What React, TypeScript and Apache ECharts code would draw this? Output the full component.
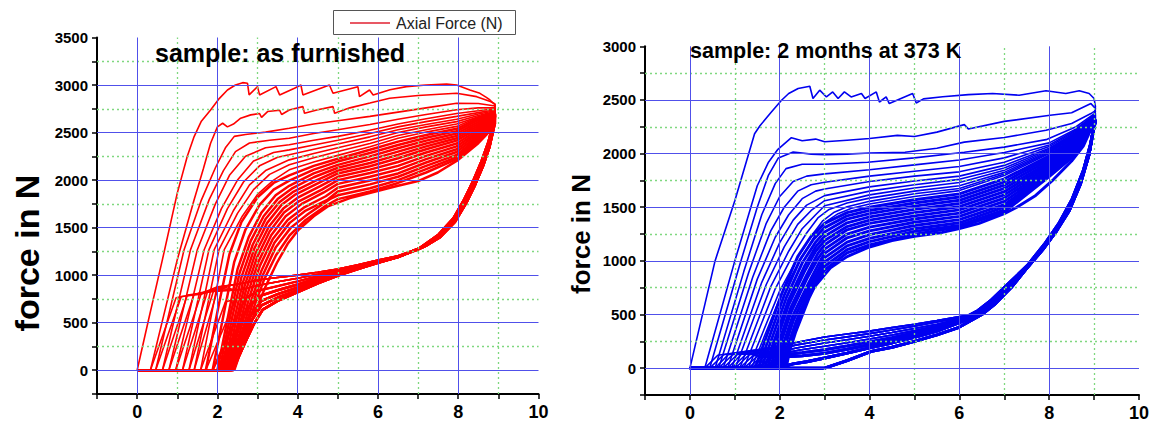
import React, { useEffect, useRef } from 'react';
import * as echarts from 'echarts';

type Pt = [number, number];

// ---------------- axis / grid values ----------------
const xMajorGrid = [0, 2, 4, 6, 8];
const xMinorGrid = [1, 3, 5, 7, 9];
const leftYMajorGrid = [0, 500, 1000, 1500, 2000, 2500, 3000];
const leftYMinorGrid = [250, 750, 1250, 1750, 2250, 2750, 3250];
const rightYMajorGrid = [0, 500, 1000, 1500, 2000, 2500];
const rightYMinorGrid = [250, 750, 1250, 1750, 2250, 2750];

const titleLeft = 'sample: as furnished';
const titleRight = 'sample: 2 months at 373 K';
const yTitle = 'force in N';
const legendLabel = 'Axial Force (N)';

// ---------------- LEFT PANEL: loading branches ----------------
const leftLoad01: Pt[] = [[0,0],[0.3,560],[0.63,1163],[1.0,1863],[1.25,2250],[1.42,2458],[1.6,2620],[1.83,2738],[2.05,2860],[2.25,2948],[2.45,3000],[2.63,3025],[2.75,3018],[2.79,2896],[3.0,2983],[3.05,2896],[3.46,2983],[3.55,2896],[3.92,2966],[4.08,3000],[4.13,2896],[4.79,3000],[4.88,2913],[5.5,2983],[5.54,2878],[5.79,2948],[5.88,2896],[6.3,2950],[6.71,2983],[7.2,3000],[7.71,3011],[7.96,3000],[8.29,2948],[8.54,2913],[8.7,2870],[8.79,2843],[8.92,2790]];
const leftLoad02: Pt[] = [[0.33,0],[1.0,1163],[1.42,1793],[1.65,2120],[1.83,2388],[2.0,2560],[2.13,2598],[2.25,2560],[2.4,2590],[2.58,2651],[2.83,2686],[3.05,2700],[3.1,2660],[3.25,2721],[3.55,2735],[3.6,2690],[3.79,2738],[4.13,2773],[4.17,2703],[4.5,2740],[4.88,2773],[4.92,2703],[5.3,2760],[5.8,2810],[6.29,2861],[7.0,2890],[7.96,2913],[8.46,2878],[8.8,2826],[8.92,2800]];
const leftLoad03: Pt[] = [[0.46,0],[1.17,1268],[1.6,1790],[1.95,2130],[2.2,2340],[2.42,2460],[2.7,2480],[3.2,2505],[3.79,2546],[4.4,2590],[5.0,2625],[5.8,2670],[6.5,2715],[7.2,2760],[7.96,2808],[8.5,2805],[8.92,2780]];
const leftLoad04: Pt[] = [[0.63,0],[1.33,1268],[1.8,1800],[2.15,2100],[2.45,2300],[2.8,2390],[3.3,2420],[3.79,2441],[4.4,2490],[5.0,2530],[5.8,2585],[6.5,2640],[7.2,2690],[7.96,2740],[8.5,2760],[8.92,2760]];
const leftLoad05: Pt[] = [[0.79,0],[1.5,1268],[1.95,1750],[2.3,2050],[2.7,2250],[3.2,2340],[3.79,2371],[4.4,2420],[5.0,2460],[5.8,2525],[6.5,2590],[7.2,2645],[7.96,2700],[8.5,2730],[8.92,2750]];
const leftLoad06: Pt[] = [[0.96,0],[1.67,1268],[2.1,1700],[2.5,2000],[2.9,2200],[3.4,2290],[3.79,2318],[4.4,2370],[5.0,2420],[5.8,2490],[6.5,2560],[7.2,2615],[7.96,2670],[8.5,2710],[8.92,2740]];
const leftLoad07: Pt[] = [[1.13,0],[1.79,1268],[2.25,1700],[2.65,1980],[3.05,2150],[3.5,2240],[3.79,2266],[4.4,2325],[5.0,2380],[5.8,2455],[6.5,2530],[7.2,2585],[7.96,2640],[8.5,2695],[8.92,2730]];
const leftLoad08: Pt[] = [[1.29,0],[1.92,1268],[2.4,1680],[2.8,1950],[3.2,2100],[3.79,2213],[4.4,2280],[5.0,2340],[5.8,2420],[6.5,2500],[7.2,2560],[7.96,2615],[8.5,2680],[8.92,2720]];
const leftLoad09: Pt[] = [[1.42,0],[2.04,1268],[2.5,1650],[2.9,1900],[3.3,2060],[3.79,2161],[4.4,2235],[5.0,2300],[5.8,2385],[6.5,2470],[7.2,2530],[7.96,2590],[8.5,2665],[8.92,2715]];
const leftLoad10: Pt[] = [[1.58,0],[2.17,1268],[2.62,1620],[3.0,1850],[3.4,2000],[3.79,2108],[4.4,2190],[5.0,2260],[5.8,2350],[6.5,2440],[7.2,2505],[7.96,2565],[8.5,2660],[8.92,2710]];
const leftLoad11: Pt[] = [[1.71,0],[2.05,720],[2.3,1220],[2.6,1560],[3.0,1820],[3.4,1970],[3.79,2050],[4.4,2150],[5.0,2225],[5.8,2320],[6.5,2405],[7.2,2475],[7.96,2540],[8.5,2650],[8.92,2700]];
const leftLoad12: Pt[] = [[1.88,0],[2.18,640],[2.42,1140],[2.7,1480],[3.05,1740],[3.4,1900],[3.79,1995],[4.4,2110],[5.0,2195],[5.8,2285],[6.5,2370],[7.2,2445],[7.96,2515],[8.5,2630],[8.92,2695]];
const leftLoad13: Pt[] = [[2.0,0],[2.28,600],[2.5,1060],[2.78,1400],[3.1,1660],[3.45,1840],[3.79,1940],[4.4,2070],[5.0,2160],[5.8,2250],[6.5,2335],[7.2,2415],[7.96,2490],[8.5,2610],[8.92,2690]];
const leftLoad14: Pt[] = [[2.05,0],[2.32,570],[2.55,1020],[2.83,1360],[3.15,1620],[3.5,1800],[3.85,1910],[4.4,2030],[5.0,2130],[5.8,2215],[6.5,2300],[7.2,2385],[7.96,2465],[8.5,2590],[8.92,2685]];
const leftLoad15: Pt[] = [[2.1,0],[2.36,540],[2.6,980],[2.88,1320],[3.2,1590],[3.55,1770],[3.9,1880],[4.45,1995],[5.0,2100],[5.8,2180],[6.5,2265],[7.2,2355],[7.96,2440],[8.5,2570],[8.92,2680]];
const leftLoad16: Pt[] = [[2.15,0],[2.4,500],[2.64,930],[2.92,1280],[3.24,1550],[3.6,1740],[3.95,1850],[4.5,1965],[5.0,2070],[5.8,2145],[6.5,2230],[7.2,2325],[7.96,2415],[8.5,2550],[8.92,2675]];
const leftLoad17: Pt[] = [[2.2,0],[2.44,470],[2.68,890],[2.95,1230],[3.28,1510],[3.64,1700],[4.0,1815],[4.55,1935],[5.0,2035],[5.8,2110],[6.5,2190],[7.2,2290],[7.96,2385],[8.5,2530],[8.92,2670]];
const leftLoad18: Pt[] = [[2.24,0],[2.48,440],[2.71,840],[2.98,1180],[3.3,1460],[3.66,1660],[4.04,1780],[4.6,1900],[5.0,2000],[5.8,2075],[6.5,2150],[7.2,2255],[7.96,2355],[8.5,2510],[8.92,2660]];
const leftLoad19: Pt[] = [[2.28,0],[2.52,420],[2.75,800],[3.02,1140],[3.34,1420],[3.7,1620],[4.1,1750],[4.65,1870],[5.0,1960],[5.8,2035],[6.5,2110],[7.2,2220],[7.96,2325],[8.5,2490],[8.92,2650]];
const leftLoad20: Pt[] = [[2.31,0],[2.56,400],[2.79,760],[3.06,1100],[3.38,1380],[3.75,1580],[4.15,1710],[4.7,1830],[5.0,1920],[5.8,1995],[6.5,2070],[7.2,2185],[7.96,2295],[8.5,2470],[8.92,2640]];
const leftLoad21: Pt[] = [[2.34,0],[2.59,370],[2.83,720],[3.1,1050],[3.42,1340],[3.8,1550],[4.2,1680],[4.75,1795],[5.0,1880],[5.8,1955],[6.5,2035],[7.2,2150],[7.96,2265],[8.5,2450],[8.92,2630]];
const leftLoad22: Pt[] = [[2.36,0],[2.61,340],[2.86,680],[3.13,1000],[3.45,1290],[3.83,1500],[4.25,1640],[4.8,1800],[5.0,1840],[5.8,1915],[6.5,2000],[7.2,2115],[7.96,2240],[8.5,2430],[8.92,2620]];
const leftLoad23: Pt[] = [[2.38,0],[2.63,310],[2.89,640],[3.16,950],[3.46,1210],[3.8,1420],[4.2,1580],[4.7,1730],[5.0,1800],[5.8,1880],[6.5,1970],[7.2,2080],[7.96,2220],[8.5,2410],[8.92,2610]];
const leftLoad24: Pt[] = [[2.4,0],[2.65,280],[2.93,606],[3.2,880],[3.48,1128],[3.75,1330],[4.02,1478],[4.4,1620],[4.75,1723],[5.3,1810],[5.84,1870],[6.5,1940],[7.0,1990],[7.49,2080],[8.0,2213],[8.5,2388],[8.8,2520],[8.92,2600]];

// ---------------- LEFT PANEL: unloading branches ----------------
const leftUnload1: Pt[] = [[8.86,2600],[8.74,2400],[8.57,2200],[8.37,2000],[8.14,1800],[7.87,1600],[7.5,1430],[7.0,1280],[6.5,1205],[6.0,1160],[5.5,1110],[5.0,1065],[4.5,1030],[4.0,1000],[3.5,975],[3.1,955],[2.5,905]];
const leftUnload2: Pt[] = [[8.86,2580],[8.75,2380],[8.58,2180],[8.38,1980],[8.15,1780],[7.87,1580],[7.5,1420],[7.0,1275],[6.5,1200],[6.0,1152],[5.5,1100],[5.0,1052],[4.5,1010],[4.0,968],[3.5,930],[3.1,900],[2.6,850]];
const leftUnload3: Pt[] = [[8.86,2550],[8.76,2350],[8.6,2150],[8.4,1950],[8.16,1750],[7.88,1560],[7.5,1410],[7.0,1270],[6.5,1195],[6.0,1145],[5.5,1090],[5.0,1040],[4.5,990],[4.0,935],[3.5,885],[3.1,845],[2.7,760]];
const leftUnload4: Pt[] = [[8.86,2535],[8.765,2350],[8.605,2150],[8.405,1950],[8.17,1752],[7.89,1560],[7.51,1408],[7.05,1280],[6.5,1193],[6.0,1141],[5.5,1084],[5.0,1030],[4.5,970],[4.0,902],[3.5,842],[3.1,788],[2.75,660]];
const leftUnload5: Pt[] = [[8.86,2520],[8.77,2350],[8.61,2150],[8.41,1950],[8.18,1755],[7.9,1560],[7.52,1405],[7.1,1290],[6.5,1192],[6.0,1137],[5.5,1078],[5.0,1020],[4.5,950],[4.0,870],[3.5,800],[3.1,730],[2.8,560]];
const leftUnload6: Pt[] = [[8.86,2510],[8.775,2350],[8.615,2150],[8.415,1950],[8.19,1758],[7.91,1560],[7.535,1402],[7.15,1300],[6.5,1191],[6.0,1133],[5.5,1072],[5.0,1010],[4.5,932],[4.0,841],[3.5,765],[3.1,683],[2.85,520],[2.65,260]];
const leftUnload7: Pt[] = [[8.86,2500],[8.78,2350],[8.62,2150],[8.42,1950],[8.2,1760],[7.92,1560],[7.55,1400],[7.2,1310],[6.96,1270],[6.5,1190],[6.0,1130],[5.5,1065],[5.04,1000],[4.5,915],[3.96,813],[3.5,730],[3.13,637],[2.9,480],[2.7,300],[2.54,150]];

// ---------------- LEFT PANEL: return to the next start ----------------
const leftTails: Pt[][] = [
  [[2.0,878],[1.64,815],[0.97,762],[0.33,0]],
  [[2.1,880],[1.6,800],[1.1,775],[0.46,0]],
  [[2.2,885],[1.7,815],[1.25,790],[0.63,0]],
  [[2.25,888],[1.8,835],[1.42,800],[0.79,0]],
  [[2.3,840],[1.95,830],[1.6,810],[0.96,0]],
  [[2.3,840],[2.0,845],[1.75,820],[1.13,0]],
  [[2.35,845],[2.1,860],[1.9,830],[1.29,0]],
  [[2.4,850],[2.2,870],[2.0,840],[1.42,0]],
  [[2.4,740],[2.2,720],[1.58,0]],
  [[2.45,740],[1.71,0]],
  [[1.88,0]], [[2.0,0]], [[2.05,0]],
  [[2.1,0]], [[2.15,0]], [[2.2,0]], [[2.24,0]], [[2.28,0]],
  [[2.31,0]], [[2.34,0]], [[2.36,0]], [[2.38,0]], [[2.4,0]], [[2.42,0]],
];

const leftLoads = [leftLoad01,leftLoad02,leftLoad03,leftLoad04,leftLoad05,leftLoad06,leftLoad07,leftLoad08,leftLoad09,leftLoad10,leftLoad11,leftLoad12,leftLoad13,leftLoad14,leftLoad15,leftLoad16,leftLoad17,leftLoad18,leftLoad19,leftLoad20,leftLoad21,leftLoad22,leftLoad23,leftLoad24];
const leftUnloads = [leftUnload1,leftUnload1,leftUnload1,leftUnload1,leftUnload2,leftUnload2,leftUnload2,leftUnload2,leftUnload3,leftUnload3,leftUnload3,leftUnload4,leftUnload4,leftUnload4,leftUnload5,leftUnload5,leftUnload5,leftUnload6,leftUnload6,leftUnload6,leftUnload7,leftUnload7,leftUnload7,leftUnload7];

// ---------------- RIGHT PANEL: loading branches ----------------
const rightLoad01: Pt[] = [[0,0],[0.56,1000],[1.0,1561],[1.44,2185],[1.56,2260],[1.8,2380],[2.04,2497],[2.2,2560],[2.41,2607],[2.67,2628],[2.74,2513],[2.89,2591],[3.04,2528],[3.18,2575],[3.3,2513],[3.44,2575],[3.59,2528],[3.82,2560],[3.9,2513],[4.15,2575],[4.22,2481],[4.37,2528],[4.44,2466],[4.96,2560],[5.04,2472],[5.2,2510],[5.63,2530],[6.2,2550],[6.74,2560],[7.33,2544],[7.93,2585],[8.37,2560],[8.67,2585],[8.89,2560],[9.0,2513],[9.03,2440]];
const rightLoad02: Pt[] = [[0.33,0],[1.0,1000],[1.5,1700],[1.75,1920],[1.96,2040],[2.26,2148],[2.5,2120],[2.8,2135],[3.0,2110],[3.5,2125],[4.0,2140],[4.62,2170],[5.0,2160],[5.5,2200],[6.11,2270],[6.2,2230],[7.0,2300],[8.02,2357],[8.5,2380],[8.93,2466],[9.03,2420]];
const rightLoad03: Pt[] = [[0.44,0],[1.1,950],[1.5,1500],[1.75,1800],[1.97,1960],[2.3,2015],[2.7,1995],[3.0,1990],[3.5,1995],[4.0,2005],[4.79,2013],[5.5,2050],[6.11,2107],[7.0,2150],[7.93,2217],[8.5,2280],[8.93,2373],[9.03,2400]];
const rightLoad04: Pt[] = [[0.56,0],[1.2,900],[1.6,1430],[1.9,1720],[2.14,1860],[2.5,1900],[3.0,1900],[3.96,1920],[5.0,1960],[6.11,2013],[7.0,2060],[7.93,2130],[8.6,2250],[9.03,2380]];
const rightLoad05: Pt[] = [[0.64,0],[1.3,880],[1.7,1350],[2.0,1600],[2.3,1740],[2.6,1790],[3.0,1811],[4.0,1850],[5.0,1895],[6.0,1940],[7.0,2010],[8.0,2100],[8.6,2230],[9.03,2370]];
const rightLoad06: Pt[] = [[0.74,0],[1.4,850],[1.8,1280],[2.1,1500],[2.4,1650],[2.7,1710],[3.0,1733],[4.0,1790],[5.0,1835],[6.0,1880],[7.0,1960],[8.0,2080],[8.6,2220],[9.03,2360]];
const rightLoad07: Pt[] = [[0.84,0],[1.5,830],[1.9,1220],[2.2,1430],[2.5,1580],[2.8,1650],[3.0,1670],[4.0,1740],[5.0,1790],[6.0,1830],[7.0,1920],[8.0,2065],[8.6,2210],[9.03,2355]];
const rightLoad08: Pt[] = [[0.93,0],[1.6,800],[2.0,1170],[2.3,1380],[2.6,1520],[3.0,1608],[4.0,1690],[5.0,1745],[6.0,1790],[7.0,1890],[8.0,2050],[8.6,2200],[9.03,2350]];
const rightLoad09: Pt[] = [[1.01,0],[1.7,780],[2.1,1130],[2.4,1340],[2.7,1470],[3.0,1561],[4.0,1650],[5.0,1710],[6.0,1760],[7.0,1865],[8.0,2040],[8.6,2195],[9.03,2345]];
const rightLoad10: Pt[] = [[1.11,0],[1.8,760],[2.2,1090],[2.5,1300],[2.8,1430],[3.0,1514],[4.0,1615],[5.0,1680],[6.0,1730],[7.0,1845],[8.0,2030],[8.6,2190],[9.03,2340]];
const rightLoad11: Pt[] = [[1.2,0],[1.9,740],[2.3,1060],[2.6,1260],[2.85,1400],[3.1,1480],[3.5,1540],[4.0,1585],[5.0,1650],[6.0,1700],[7.0,1825],[8.0,2020],[8.6,2185],[9.03,2335]];
const rightLoad12: Pt[] = [[1.3,0],[2.0,720],[2.4,1030],[2.7,1230],[2.95,1370],[3.2,1450],[3.5,1505],[4.0,1555],[5.0,1625],[6.0,1675],[7.0,1810],[8.0,2010],[8.6,2180],[9.03,2330]];
const rightLoad13: Pt[] = [[1.37,0],[2.05,700],[2.45,1000],[2.8,1250],[3.05,1370],[3.3,1440],[3.6,1490],[4.0,1530],[5.0,1600],[6.0,1655],[7.0,1795],[8.0,2000],[8.6,2175],[9.03,2325]];
const rightLoad14: Pt[] = [[1.45,0],[2.05,700],[2.4,1040],[2.7,1230],[3.0,1350],[3.5,1450],[4.0,1500],[5.0,1570],[6.0,1625],[7.0,1765],[8.0,1980],[8.6,2160],[9.03,2320]];
const rightLoad15: Pt[] = [[1.52,0],[2.1,680],[2.45,1010],[2.75,1200],[3.0,1310],[3.5,1420],[4.0,1470],[5.0,1540],[6.0,1595],[7.0,1735],[8.0,1960],[8.6,2145],[9.03,2318]];
const rightLoad16: Pt[] = [[1.59,0],[2.15,660],[2.5,980],[2.8,1175],[3.0,1270],[3.5,1390],[4.0,1440],[5.0,1510],[6.0,1565],[7.0,1705],[8.0,1940],[8.6,2130],[9.03,2316]];
const rightLoad17: Pt[] = [[1.66,0],[2.2,640],[2.55,950],[2.8,1130],[3.0,1230],[3.5,1355],[4.0,1410],[5.0,1480],[6.0,1535],[7.0,1675],[8.0,1920],[8.6,2115],[9.03,2314]];
const rightLoad18: Pt[] = [[1.72,0],[2.2,590],[2.55,900],[2.8,1090],[3.0,1190],[3.5,1320],[4.0,1380],[5.0,1450],[6.0,1505],[7.0,1645],[8.0,1900],[8.6,2100],[9.03,2312]];
const rightLoad19: Pt[] = [[1.78,0],[2.25,570],[2.6,870],[2.85,1070],[3.0,1150],[3.5,1290],[4.0,1350],[5.0,1420],[6.0,1475],[7.0,1615],[8.0,1880],[8.6,2085],[9.03,2310]];
const rightLoad20: Pt[] = [[1.84,0],[2.25,520],[2.6,830],[2.85,1020],[3.0,1110],[3.5,1250],[4.0,1315],[5.0,1390],[6.0,1445],[7.0,1585],[8.0,1860],[8.6,2070],[9.03,2308]];
const rightLoad21: Pt[] = [[1.9,0],[2.3,500],[2.65,800],[2.9,1000],[3.0,1070],[3.5,1215],[4.0,1280],[5.0,1360],[6.0,1415],[7.0,1555],[8.0,1840],[8.6,2055],[9.03,2306]];
const rightLoad22: Pt[] = [[1.96,0],[2.3,440],[2.65,760],[2.9,950],[3.0,1030],[3.5,1175],[4.0,1245],[5.0,1330],[6.0,1385],[7.0,1525],[8.0,1825],[8.6,2040],[9.03,2304]];
const rightLoad23: Pt[] = [[2.01,0],[2.35,420],[2.65,720],[2.9,910],[3.0,990],[3.5,1140],[4.0,1210],[5.0,1300],[6.0,1355],[7.0,1500],[8.0,1810],[8.6,2025],[9.03,2302]];
const rightLoad24: Pt[] = [[2.06,0],[2.35,360],[2.65,680],[2.9,880],[3.0,950],[3.5,1105],[4.0,1180],[5.0,1275],[6.0,1330],[7.0,1475],[8.0,1795],[8.6,2010],[9.03,2300]];
const rightLoad25: Pt[] = [[2.1,0],[2.35,330],[2.65,650],[2.85,820],[3.0,915],[3.5,1075],[4.0,1150],[5.0,1250],[6.0,1315],[7.0,1455],[8.0,1785],[8.6,1995],[9.03,2300]];
const rightLoad26: Pt[] = [[2.14,0],[2.3,312],[2.63,687],[3.13,936],[3.5,1040],[3.96,1124],[4.5,1190],[5.0,1230],[5.62,1265],[6.0,1300],[6.44,1350],[7.0,1440],[7.27,1498],[7.7,1610],[8.1,1760],[8.5,1930],[8.76,2070],[9.01,2300]];

// ---------------- RIGHT PANEL: unloading branches ----------------
const rightUnloadA: Pt[] = [[9.0,2280],[8.9,2080],[8.75,1850],[8.5,1580],[8.2,1350],[7.9,1170],[7.5,960],[7.1,800],[6.7,640],[6.4,540],[6.2,495],[5.5,445],[5.0,410],[4.5,378],[4.0,345],[3.5,318],[3.0,290],[2.3,234]];
const rightUnloadB: Pt[] = [[9.0,2270],[8.9,2070],[8.75,1840],[8.5,1570],[8.2,1340],[7.9,1160],[7.5,955],[7.1,792],[6.7,632],[6.4,532],[6.2,485],[5.5,430],[5.0,392],[4.5,356],[4.0,322],[3.5,292],[3.0,262],[2.35,215]];
const rightUnloadC: Pt[] = [[9.0,2260],[8.9,2055],[8.74,1825],[8.49,1557],[8.19,1328],[7.89,1150],[7.5,950],[7.1,785],[6.7,625],[6.4,525],[6.15,475],[5.5,410],[5.0,370],[4.5,332],[4.0,298],[3.5,265],[3.0,235],[2.4,190]];
const rightUnloadD: Pt[] = [[9.0,2250],[8.9,2040],[8.73,1810],[8.48,1545],[8.18,1316],[7.88,1140],[7.5,945],[7.1,777],[6.72,617],[6.42,518],[6.1,465],[5.5,395],[5.0,350],[4.5,310],[4.0,272],[3.5,237],[3.0,205],[2.45,170]];
const rightUnloadE: Pt[] = [[8.99,2240],[8.9,2025],[8.73,1790],[8.47,1530],[8.17,1304],[7.87,1130],[7.5,940],[7.12,770],[6.74,610],[6.45,512],[6.05,452],[5.5,380],[5.0,330],[4.5,285],[4.0,245],[3.5,208],[3.0,172],[2.5,145],[2.2,130]];
const rightUnloadF: Pt[] = [[8.99,2230],[8.89,2010],[8.72,1770],[8.46,1515],[8.16,1292],[7.86,1120],[7.5,937],[7.13,762],[6.76,605],[6.47,507],[6.0,440],[5.5,362],[5.0,308],[4.5,260],[4.0,218],[3.5,176],[3.0,138],[2.5,115],[2.2,108]];
const rightUnloadG: Pt[] = [[8.98,2215],[8.89,1995],[8.71,1745],[8.46,1495],[8.16,1280],[7.86,1110],[7.5,933],[7.14,755],[6.78,602],[6.48,503],[6.0,425],[5.5,345],[5.0,288],[4.5,235],[4.0,190],[3.5,140],[3.0,95],[2.6,60],[2.3,40]];
const rightUnloadH: Pt[] = [[8.98,2200],[8.88,1980],[8.7,1720],[8.45,1470],[8.15,1270],[7.85,1100],[7.5,930],[7.15,749],[6.8,600],[6.5,500],[5.96,375],[5.5,310],[5.0,250],[4.5,195],[4.04,156],[3.5,70],[3.0,0]];

const rightTails: Pt[][] = [
  [[1.8,190],[0.62,120],[0.33,0]],
  [[1.8,190],[0.75,125],[0.44,0]],
  [[1.8,185],[0.85,125],[0.56,0]],
  [[1.8,175],[0.95,125],[0.64,0]],
  [[1.9,165],[1.05,125],[0.74,0]],
  [[1.9,160],[1.15,130],[0.84,0]],
  [[1.9,150],[1.25,130],[0.93,0]],
  [[1.9,145],[1.32,125],[1.01,0]],
  [[1.9,140],[1.4,115],[1.11,0]],
  [[1.9,130],[1.5,110],[1.2,0]],
  [[1.9,125],[1.6,110],[1.3,0]],
  [[1.9,120],[1.65,105],[1.37,0]],
  [[1.7,100],[1.45,0]],
  [[1.8,95],[1.52,0]],
  [[1.59,0]],
  [[1.66,0]], [[1.72,0]], [[1.78,0]],
  [[1.84,0]], [[1.9,0]], [[1.96,0]], [[2.01,0]],
  [[2.06,0]], [[2.1,0]], [[2.14,0]], [[0,0]],
];

const rightLoads = [rightLoad01,rightLoad02,rightLoad03,rightLoad04,rightLoad05,rightLoad06,rightLoad07,rightLoad08,rightLoad09,rightLoad10,rightLoad11,rightLoad12,rightLoad13,rightLoad14,rightLoad15,rightLoad16,rightLoad17,rightLoad18,rightLoad19,rightLoad20,rightLoad21,rightLoad22,rightLoad23,rightLoad24,rightLoad25,rightLoad26];
const rightUnloads = [rightUnloadA,rightUnloadA,rightUnloadA,rightUnloadB,rightUnloadB,rightUnloadB,rightUnloadC,rightUnloadC,rightUnloadC,rightUnloadD,rightUnloadD,rightUnloadD,rightUnloadE,rightUnloadE,rightUnloadE,rightUnloadF,rightUnloadF,rightUnloadF,rightUnloadG,rightUnloadG,rightUnloadG,rightUnloadG,rightUnloadH,rightUnloadH,rightUnloadH,rightUnloadH];

// ---------------- styling ----------------
const RED = '#ff0000';
const BLUE = '#0000f0';
const GRID_BLUE = '#5050ea';
const GRID_GREEN = '#7fd87f';
const FONT = "'Liberation Sans', Arial, sans-serif";

function cyclePath(load: Pt[], unload: Pt[], tail: Pt[]): Pt[] {
  return [[0, 0] as Pt, ...load, ...unload, ...tail];
}

function gridLineSeries(idx: number, yMajor: number[], yMinor: number[]) {
  const major = { color: GRID_BLUE, width: 1, type: 'solid' };
  const minor = { color: GRID_GREEN, width: 1.3, type: [2, 3] };
  return {
    type: 'line', xAxisIndex: idx, yAxisIndex: idx, z: 1, silent: true,
    data: [[-1, -250]], symbol: 'none', lineStyle: { opacity: 0 },
    markLine: {
      silent: true, symbol: ['none', 'none'], label: { show: false }, animation: false,
      data: [
        ...xMinorGrid.map((v) => ({ xAxis: v, lineStyle: minor })),
        ...yMinor.map((v) => ({ yAxis: v, lineStyle: minor })),
        ...xMajorGrid.map((v) => ({ xAxis: v, lineStyle: major })),
        ...yMajor.map((v) => ({ yAxis: v, lineStyle: major })),
      ],
    },
  };
}

function xAxisDef(idx: number) {
  return {
    type: 'value', gridIndex: idx, min: -1, max: 10, interval: 1,
    axisLine: { onZero: false, lineStyle: { color: '#000', width: 2 } },
    axisTick: { length: 5, lineStyle: { color: '#000', width: 1.5 } },
    axisLabel: {
      formatter: (v: number) => (v >= 0 && v % 2 === 0 ? String(v) : ''),
      fontSize: 18, fontWeight: 'bold', color: '#000', fontFamily: FONT, margin: 9,
      showMinLabel: true, showMaxLabel: true,
    },
    splitLine: { show: false },
  };
}

function yAxisDef(idx: number, max: number) {
  return {
    type: 'value', gridIndex: idx, min: -250, max, interval: 250,
    axisLine: { show: true, onZero: false, lineStyle: { color: '#000', width: 2 } },
    axisTick: { show: true, length: 5, lineStyle: { color: '#000', width: 1.5 } },
    axisLabel: {
      formatter: (v: number) => (v >= 0 && v % 500 === 0 ? String(v) : ''),
      fontSize: 15, fontWeight: 'bold', color: '#000', fontFamily: FONT, margin: 9,
    },
    splitLine: { show: false },
  };
}

export default function App() {
  const ref = useRef<HTMLDivElement>(null);
  useEffect(() => {
    if (!ref.current) return;
    const chart = echarts.init(ref.current, undefined, { renderer: 'svg' });
    const curveSeries: any[] = [];
    leftLoads.forEach((load, i) => {
      curveSeries.push({
        type: 'line', xAxisIndex: 0, yAxisIndex: 0, z: 3, silent: true,
        data: cyclePath(load, leftUnloads[i], leftTails[i]),
        symbol: 'none', showSymbol: false,
        lineStyle: { color: RED, width: i < 10 ? 1.6 : 2.5 },
      });
    });
    rightLoads.forEach((load, i) => {
      curveSeries.push({
        type: 'line', xAxisIndex: 1, yAxisIndex: 1, z: 3, silent: true,
        data: cyclePath(load, rightUnloads[i], rightTails[i]),
        symbol: 'none', showSymbol: false,
        lineStyle: { color: BLUE, width: i < 13 ? 1.6 : 2.9 },
      });
    });
    chart.setOption({
      animation: false,
      backgroundColor: '#ffffff',
      grid: [
        { left: 97, top: 37.5, width: 441.5, height: 356.5 },
        { left: 645, top: 46.3, width: 495, height: 348.7 },
      ],
      xAxis: [xAxisDef(0), xAxisDef(1)],
      yAxis: [yAxisDef(0, 3500), yAxisDef(1, 3000)],
      series: [
        gridLineSeries(0, leftYMajorGrid, leftYMinorGrid),
        gridLineSeries(1, rightYMajorGrid, rightYMinorGrid),
        ...curveSeries,
      ],
      graphic: [
        { type: 'text', x: 155, y: 52.5, z: 10, style: { text: titleLeft, fontSize: 25, fontWeight: 'bold', fill: '#000', fontFamily: FONT, textVerticalAlign: 'middle' } },
        { type: 'text', x: 690, y: 50.5, z: 10, style: { text: titleRight, fontSize: 21.5, fontWeight: 'bold', fill: '#000', fontFamily: FONT, textVerticalAlign: 'middle' } },
        { type: 'text', x: 27, y: 253, rotation: Math.PI / 2, z: 10, style: { text: yTitle, fontSize: 34, fontWeight: 'bold', fill: '#000', fontFamily: FONT, textAlign: 'center', textVerticalAlign: 'middle' } },
        { type: 'text', x: 581, y: 234, rotation: Math.PI / 2, z: 10, style: { text: yTitle, fontSize: 26, fontWeight: 'bold', fill: '#000', fontFamily: FONT, textAlign: 'center', textVerticalAlign: 'middle' } },
        { type: 'rect', z: 10, shape: { x: 333.5, y: 10.5, width: 182, height: 24 }, style: { fill: '#fff', stroke: '#555', lineWidth: 1 } },
        { type: 'line', z: 11, shape: { x1: 350, y1: 23, x2: 390, y2: 23 }, style: { stroke: '#e02030', lineWidth: 1.6 } },
        { type: 'text', x: 396, y: 23, z: 11, style: { text: legendLabel, fontSize: 16, fill: '#222', fontFamily: FONT, textVerticalAlign: 'middle' } },
      ],
    });
    return () => chart.dispose();
  }, []);
  return <div ref={ref} style={{ position: 'fixed', left: 0, top: 0, width: 1152, height: 427, background: '#fff' }} />;
}
